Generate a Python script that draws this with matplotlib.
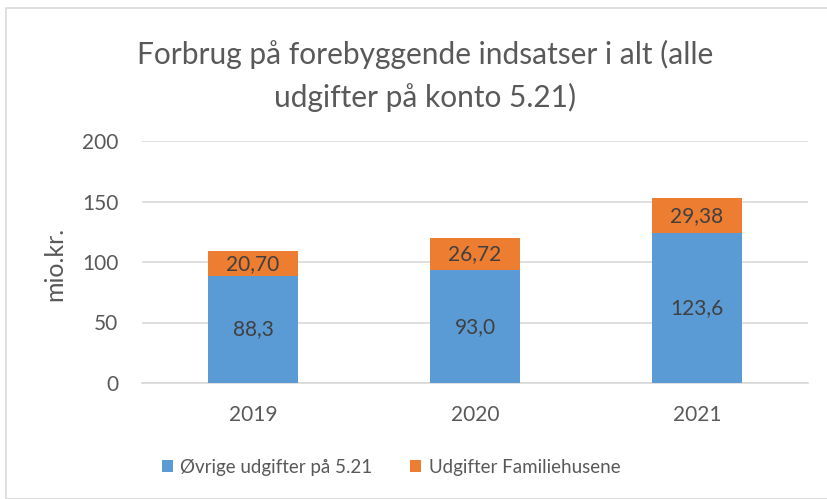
import matplotlib.pyplot as plt
from matplotlib.patches import Rectangle

years = ['2019', '2020', '2021']
ovrige = [88.3, 93.0, 123.6]
familiehuse = [20.70, 26.72, 29.38]
ovrige_labels = ['88,3', '93,0', '123,6']
familie_labels = ['20,70', '26,72', '29,38']

blue = '#5B9BD5'
orange = '#ED7D31'
txt = '#595959'

plt.rcParams['font.family'] = ['Lato', 'DejaVu Sans']

fig = plt.figure(figsize=(8.27, 4.99), dpi=100)
fig.patches.append(Rectangle((6 / 827, 0), 1, 1 - 8 / 499, transform=fig.transFigure,
                             fill=False, edgecolor='#D9D9D9', lw=1.2))
ax = fig.add_axes([142 / 827, (499 - 383) / 499, 666 / 827, 242 / 499])

x = range(len(years))
b1 = ax.bar(x, ovrige, width=0.405, color=blue, label='Øvrige udgifter på 5.21', zorder=3)
b2 = ax.bar(x, familiehuse, width=0.405, bottom=ovrige, color=orange,
            label='Udgifter Familiehusene', zorder=3)
ax.bar_label(b1, labels=ovrige_labels, label_type='center', fontsize=15, color='#404040')
ax.bar_label(b2, labels=familie_labels, label_type='center', fontsize=15, color='#404040')

ax.set_xlim(-0.5, 2.5)
ax.set_ylim(0, 200)
ax.set_yticks([0, 50, 100, 150, 200])
ax.set_xticks(list(x))
ax.set_xticklabels(years)
ax.tick_params(length=0, labelsize=15, colors=txt)
ax.tick_params(axis='y', pad=17)
ax.tick_params(axis='x', pad=16)
ax.grid(axis='y', color='#D9D9D9', lw=1.2, zorder=0)
for s in ['top', 'right', 'left']:
    ax.spines[s].set_visible(False)
ax.spines['bottom'].set_color('#D9D9D9')
ax.spines['bottom'].set_linewidth(1.2)
ax.set_ylabel('mio.kr.', fontsize=18, color=txt)
ax.yaxis.set_label_coords(-(142 - 66) / 666, (499 - 264 - 116) / 242)

fig.text(0.5 + 6 / 827 / 2 + 0.01, 1 - 76 / 499, 'Forbrug på forebyggende indsatser i alt (alle\nudgifter på konto 5.21)',
         ha='center', va='center', fontsize=21.5, color=txt, linespacing=1.6)

fig.legend(loc='center', bbox_to_anchor=(391 / 827, 1 - 467 / 499), ncol=2, frameon=False,
           fontsize=13.5, labelcolor=txt, handlelength=0.6, handleheight=0.6,
           columnspacing=2.0, handletextpad=0.4)

fig.savefig('out.png', dpi=100)
